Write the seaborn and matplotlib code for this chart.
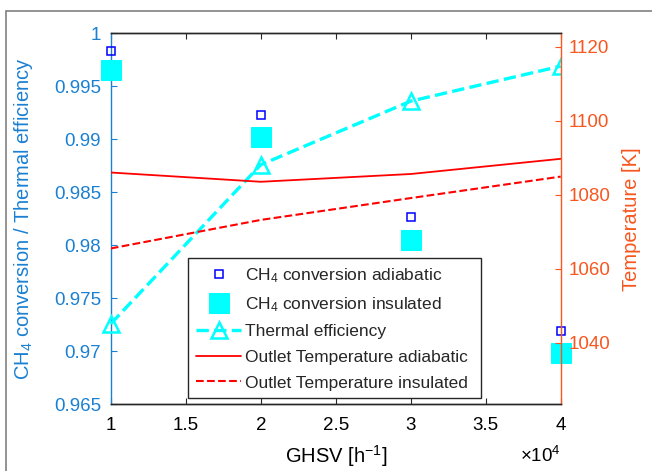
import numpy as np
import pandas as pd
import seaborn as sns
import matplotlib.pyplot as plt
from matplotlib.patches import Rectangle
from matplotlib.transforms import Bbox, TransformedBbox

# Data
ghsv = [10000, 20000, 30000, 40000]
ch4_adiabatic = [0.9983, 0.9923, 0.9827, 0.9719]
ch4_insulated = [0.9965, 0.9902, 0.9805, 0.9698]
thermal_eff = [0.9726, 0.9876, 0.9936, 0.9969]
t_out_adiabatic = [1086.0, 1083.5, 1085.6, 1089.7]
t_out_insulated = [1065.5, 1073.2, 1079.1, 1084.9]

left_ticks = [0.965, 0.97, 0.975, 0.98, 0.985, 0.99, 0.995, 1.0]
right_ticks = [1040, 1060, 1080, 1100, 1120]
x_ticks = [10000, 15000, 20000, 25000, 30000, 35000, 40000]

BLUE_AX = '#1a80d2'
ORANGE_AX = '#f7561f'
DARK = '#262626'

sns.set_style('white')
plt.rcParams['font.family'] = ['Liberation Sans', 'DejaVu Sans']
plt.rcParams['mathtext.fontset'] = 'custom'
plt.rcParams['mathtext.rm'] = 'Liberation Sans'
plt.rcParams['mathtext.it'] = 'Liberation Sans'
plt.rcParams['font.size'] = 13.5

fig = plt.figure(figsize=(6.52, 4.71), dpi=100)
ax = fig.add_axes([0.170, 0.1416, 0.690, 0.7877])
ax2 = ax.twinx()

df = pd.DataFrame({'ghsv': ghsv, 'ad': ch4_adiabatic, 'ins': ch4_insulated,
                   'eff': thermal_eff, 'tad': t_out_adiabatic, 'tins': t_out_insulated})

# left axis: conversion and efficiency
sns.lineplot(data=df, x='ghsv', y='ad', ax=ax, color='blue', linestyle='none', marker='s',
             markersize=6, markerfacecolor='none', markeredgecolor='blue', mew=1.1,
             label='CH$_4$ conversion adiabatic', clip_on=False, zorder=5)
sns.lineplot(data=df, x='ghsv', y='ins', ax=ax, color='cyan', linestyle='none', marker='s',
             markersize=14, markerfacecolor='cyan', markeredgecolor='cyan',
             label='CH$_4$ conversion insulated', clip_on=False, zorder=4)
sns.lineplot(data=df, x='ghsv', y='eff', ax=ax, color='cyan', linestyle='--', linewidth=2.4,
             dashes=(4.5, 2.2), marker='^', markersize=12, markerfacecolor='none',
             markeredgecolor='cyan', mew=1.8, label='Thermal efficiency', zorder=4)
# let the first triangle poke out on the left, as in the original
eff_line = ax.lines[-1]
eff_line.set_clip_box(TransformedBbox(Bbox([[-0.1, 0], [1, 1]]), ax.transAxes))

# right axis: outlet temperatures
sns.lineplot(data=df, x='ghsv', y='tad', ax=ax2, color='red', linewidth=1.3,
             label='Outlet Temperature adiabatic')
sns.lineplot(data=df, x='ghsv', y='tins', ax=ax2, color='red', linestyle='--', linewidth=1.5,
             dashes=(3.8, 2.4), label='Outlet Temperature insulated')

ax.set_xlim(10000, 40000)
ax.set_ylim(0.965, 1.0)
ax2.set_ylim(1023.4, 1123.6)
ax.set_xticks(x_ticks)
ax.set_xticklabels(['%g' % (t / 1e4) for t in x_ticks])
ax.set_yticks(left_ticks)
ax.set_yticklabels(['%g' % t for t in left_ticks])
ax2.set_yticks(right_ticks)

ax.set_xlabel('GHSV [h$^{-1}$]', fontsize=14.5, color='black')
ax.set_ylabel('CH$_4$ conversion / Thermal efficiency', fontsize=14.5, color=BLUE_AX)
ax2.set_ylabel('Temperature [K]', fontsize=14.5, color=ORANGE_AX)
ax.xaxis.set_label_coords(0.5, -0.105)
ax.yaxis.set_label_coords(-0.168, 0.5)
ax2.yaxis.set_label_coords(1.137, 0.5)

ax.tick_params(axis='x', direction='in', length=4, colors=DARK, labelcolor='black',
               top=True, bottom=True, labelsize=13.5, pad=9)
ax.tick_params(axis='y', direction='in', length=4, colors=BLUE_AX, labelsize=13.5, pad=7)
ax2.tick_params(axis='y', direction='in', length=4, colors=ORANGE_AX, labelsize=13.5, pad=5.5)

# multiplier shown under the right end of the x axis
ax.text(1.0, -0.14, r'$\times$10$^4$', transform=ax.transAxes, ha='right', va='center',
        fontsize=13.5, color='black')

for a in (ax, ax2):
    for s in a.spines.values():
        s.set_linewidth(1.0)
        s.set_color(DARK)
ax.spines['left'].set_color(BLUE_AX)
ax2.spines['left'].set_visible(False)
ax.spines['right'].set_visible(False)
ax2.spines['right'].set_color(ORANGE_AX)

# combined legend
h1, l1 = ax.get_legend_handles_labels()
h2, l2 = ax2.get_legend_handles_labels()
if ax.get_legend():
    ax.get_legend().remove()
leg = ax2.legend(h1 + h2, l1 + l2, loc='lower left', bbox_to_anchor=(0.172, 0.016, 0.651, 0.37),
                 mode='expand', fontsize=12.5, frameon=True, fancybox=False, edgecolor=DARK,
                 framealpha=1, handlelength=2.6, borderpad=0.45, labelspacing=0.6,
                 handletextpad=0.2, borderaxespad=0)
leg.get_frame().set_linewidth(1.0)

# outer frame of the original picture
fig.patches.append(Rectangle((6 / 652, -0.05), 1.2, 1 - 10.5 / 471 + 0.05, transform=fig.transFigure,
                             fill=False, edgecolor='#808080', linewidth=1.2))

fig.savefig('out.png', dpi=100)
